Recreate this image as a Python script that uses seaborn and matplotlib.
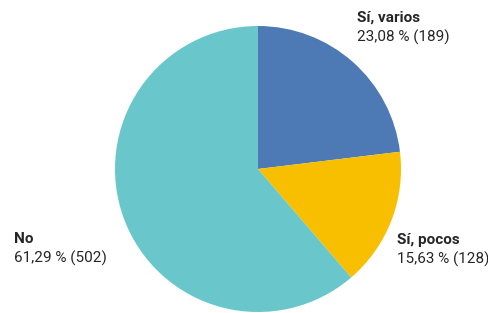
"""Pie chart: Sí varios / Sí pocos / No"""

import matplotlib
matplotlib.use("Agg")
import matplotlib.pyplot as plt
import seaborn as sns

# data
categories = ["Sí, varios", "Sí, pocos", "No"]
counts = [189, 128, 502]
pct_labels = ["23,08 %", "15,63 %", "61,29 %"]
colors = ["#4d7ab4", "#f8bf00", "#69c7cb"]

sns.set_theme(style="white")
plt.rcParams["font.family"] = ["Roboto", "DejaVu Sans"]

fig = plt.figure(figsize=(4.89, 3.13), dpi=100)
ax = fig.add_axes([0, 0, 1, 1])

ax.pie(counts, colors=sns.color_palette(colors), startangle=90,
       counterclock=False, radius=1.0,
       wedgeprops=dict(linewidth=0, antialiased=True))

# map radius 1 -> ~143 px, centre at (258, 169) px
ax.set_xlim(-258 / 143, (489 - 258) / 143)
ax.set_ylim(-144 / 143, 169 / 143)
ax.set_aspect("auto")
ax.axis("off")

# label positions in pixels (left edge of text, first-line centre)
pos = [(357, 18), (397, 240), (14, 239)]
for cat, n, pl, (x, y) in zip(categories, counts, pct_labels, pos):
    ax.text(x / 489, 1 - y / 313, cat, transform=ax.transAxes, fontsize=11,
            fontweight="bold", color="#262626", ha="left", va="center")
    ax.text(x / 489, 1 - (y + 19) / 313, f"{pl} ({n})", transform=ax.transAxes,
            fontsize=11, color="#262626", ha="left", va="center")

fig.savefig("out.png", dpi=100, facecolor="white")
